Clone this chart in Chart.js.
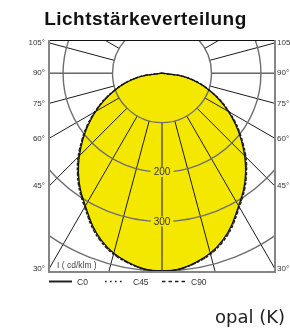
<!DOCTYPE html>
<html>
<head>
<meta charset="utf-8">
<script src="https://cdn.jsdelivr.net/npm/chart.js@4"></script>
<style>
html,body{margin:0;padding:0;background:#fff;}
#wrap{width:290px;height:330px;position:relative;}
</style>
</head>
<body>
<div id="wrap"><canvas id="c" width="290" height="330"></canvas></div>
<script>
// Gamma angles (degrees from nadir) and luminous intensity (cd/klm), symmetric planes
const gammaDeg = [0, 10, 20, 30, 40, 50, 60, 70, 80, 90];
const c0Values  = [400, 389, 359, 310, 263, 209, 155, 102, 50, 0];
const c45Values = [400, 390, 361, 312, 265, 211, 156, 103, 51, 0];
const c90Values = [400, 390, 362, 313, 266, 212, 157, 103, 51, 0];
const radialTicks = [100, 200, 300, 400];
const radialTickLabels = ['200', '300'];
const angleTickLabels = [105, 90, 75, 60, 45, 30];
const legendLabels = ['C0', 'C45', 'C90'];
const titleText = 'Lichtstärkeverteilung';
const unitText = 'I ( cd/klm )';
const subText = 'opal (K)';

const YELLOW = '#F4E700';

function toPoints(vals) {
  const pts = [];
  for (let i = gammaDeg.length - 1; i >= 0; i--) {
    const a = gammaDeg[i] * Math.PI / 180;
    pts.push({x: -vals[i] * Math.sin(a), y: -vals[i] * Math.cos(a)});
  }
  for (let i = 1; i < gammaDeg.length; i++) {
    const a = gammaDeg[i] * Math.PI / 180;
    pts.push({x: vals[i] * Math.sin(a), y: -vals[i] * Math.cos(a)});
  }
  return pts;
}

const gridPlugin = {
  id: 'ldcGrid',
  afterDatasetDraw(chart, args) {
    if (args.index !== 3) return;
    const ctx = chart.ctx, xs = chart.scales.x, ys = chart.scales.y, ca = chart.chartArea;
    const cx = xs.getPixelForValue(0), cy = ys.getPixelForValue(0);
    const unit = (ys.getPixelForValue(0) - ys.getPixelForValue(100)) / 100;
    ctx.save();
    ctx.beginPath();
    ctx.rect(ca.left, ca.top, ca.right - ca.left, ca.bottom - ca.top);
    ctx.clip();
    // radial lines
    ctx.strokeStyle = '#1b1b1b';
    ctx.lineWidth = 1;
    for (let d = -180; d <= 180; d += 15) {
      const a = d * Math.PI / 180;
      const r0 = radialTicks[0], r1 = 700;
      ctx.beginPath();
      ctx.moveTo(xs.getPixelForValue(r0 * Math.sin(a)), ys.getPixelForValue(-r0 * Math.cos(a)));
      ctx.lineTo(xs.getPixelForValue(r1 * Math.sin(a)), ys.getPixelForValue(-r1 * Math.cos(a)));
      ctx.stroke();
    }
    // circles
    ctx.strokeStyle = '#6e6e6e';
    ctx.lineWidth = 1.4;
    radialTicks.forEach(r => {
      ctx.beginPath();
      ctx.arc(cx, cy, r * unit, 0, Math.PI * 2);
      ctx.stroke();
    });
    // value labels on the 0° axis
    ctx.font = '10px "Liberation Sans", Arial, sans-serif';
    ctx.textAlign = 'center';
    ctx.textBaseline = 'middle';
    radialTickLabels.forEach(t => {
      const py = ys.getPixelForValue(-Number(t));
      const w = ctx.measureText(t).width + 6;
      ctx.fillStyle = YELLOW;
      ctx.fillRect(cx - w / 2, py - 5, w, 10);
      ctx.fillStyle = '#333';
      ctx.fillText(t, cx, py + 0.5);
    });
    ctx.restore();
  },
  afterDraw(chart) {
    const ctx = chart.ctx, xs = chart.scales.x, ys = chart.scales.y, ca = chart.chartArea;
    ctx.save();
    // frame
    ctx.strokeStyle = '#111';
    ctx.lineWidth = 1;
    ctx.beginPath(); ctx.moveTo(ca.left, ca.top + 0.5); ctx.lineTo(ca.right, ca.top + 0.5); ctx.stroke();
    ctx.strokeStyle = '#858585';
    ctx.lineWidth = 2;
    ctx.beginPath();
    ctx.moveTo(ca.left, ca.top); ctx.lineTo(ca.left, ca.bottom);
    ctx.lineTo(ca.right, ca.bottom); ctx.lineTo(ca.right, ca.top);
    ctx.stroke();
    // angle labels
    ctx.fillStyle = '#333';
    ctx.font = '8px "Liberation Sans", Arial, sans-serif';
    ctx.textBaseline = 'middle';
    const xmax = xs.max;
    angleTickLabels.forEach(d => {
      const a = d * Math.PI / 180;
      const yv = -xmax * Math.cos(a) / Math.sin(a);
      const py = ys.getPixelForValue(yv);
      ctx.textAlign = 'right';
      ctx.fillText(d + '°', ca.left - 4, py);
      ctx.textAlign = 'left';
      ctx.fillText(d + '°', ca.right + 2, py);
    });
    // unit text
    ctx.textAlign = 'left';
    ctx.font = '8.5px "Liberation Sans", Arial, sans-serif';
    ctx.fillStyle = '#444';
    ctx.fillText(unitText, ca.left + 8, ca.bottom - 6);
    // legend
    const ly = ca.bottom + 9.5;
    ctx.strokeStyle = '#222';
    ctx.lineWidth = 2;
    ctx.beginPath(); ctx.moveTo(ca.left, ly); ctx.lineTo(ca.left + 23, ly); ctx.stroke();
    ctx.lineWidth = 1.6;
    ctx.setLineDash([1.6, 3.4]);
    ctx.beginPath(); ctx.moveTo(105, ly); ctx.lineTo(123, ly); ctx.stroke();
    ctx.setLineDash([3.5, 3]);
    ctx.beginPath(); ctx.moveTo(162, ly); ctx.lineTo(186, ly); ctx.stroke();
    ctx.setLineDash([]);
    ctx.fillStyle = '#333';
    ctx.font = '8.5px "Liberation Sans", Arial, sans-serif';
    ctx.fillText(legendLabels[0], 77, ly + 1);
    ctx.fillText(legendLabels[1], 133, ly + 1);
    ctx.fillText(legendLabels[2], 191, ly + 1);
    // title
    ctx.fillStyle = '#111';
    ctx.font = 'bold 19px "Liberation Sans", Arial, sans-serif';
    ctx.textAlign = 'center';
    ctx.textBaseline = 'alphabetic';
    try { ctx.letterSpacing = '0.5px'; } catch (e) {}
    ctx.fillText(titleText, 145.5, 25);
    try { ctx.letterSpacing = '0px'; } catch (e) {}
    // sub text
    ctx.fillStyle = '#222';
    ctx.font = '18px "DejaVu Sans", sans-serif';
    ctx.textAlign = 'right';
    ctx.fillText(subText, 285, 323);
    ctx.restore();
  }
};

new Chart(document.getElementById('c'), {
  type: 'scatter',
  data: {
    datasets: [
      {label: 'C0', data: toPoints(c0Values), showLine: true, borderColor: '#111', borderWidth: 1.3, pointRadius: 0, tension: 0.4, fill: false},
      {label: 'C45', data: toPoints(c45Values), showLine: true, borderColor: '#222', borderWidth: 1.3, borderDash: [1.5, 2], pointRadius: 0, tension: 0.4, fill: false},
      {label: 'C90', data: toPoints(c90Values), showLine: true, borderColor: '#222', borderWidth: 1.3, borderDash: [3, 2], pointRadius: 0, tension: 0.4, fill: false},
      {label: 'fill', data: toPoints(c0Values), showLine: true, borderWidth: 0, borderColor: 'rgba(0,0,0,0)', backgroundColor: YELLOW, pointRadius: 0, tension: 0.4, fill: 'shape'}
    ]
  },
  options: {
    responsive: false,
    animation: false,
    events: [],
    layout: {padding: {left: 49, right: 15, top: 40, bottom: 58}},
    scales: {
      x: {type: 'linear', min: -228.5, max: 228.5, display: false},
      y: {type: 'linear', min: -402, max: 67, display: false}
    },
    plugins: {legend: {display: false}, tooltip: {enabled: false}, title: {display: false}}
  },
  plugins: [gridPlugin]
});
</script>
</body>
</html>
